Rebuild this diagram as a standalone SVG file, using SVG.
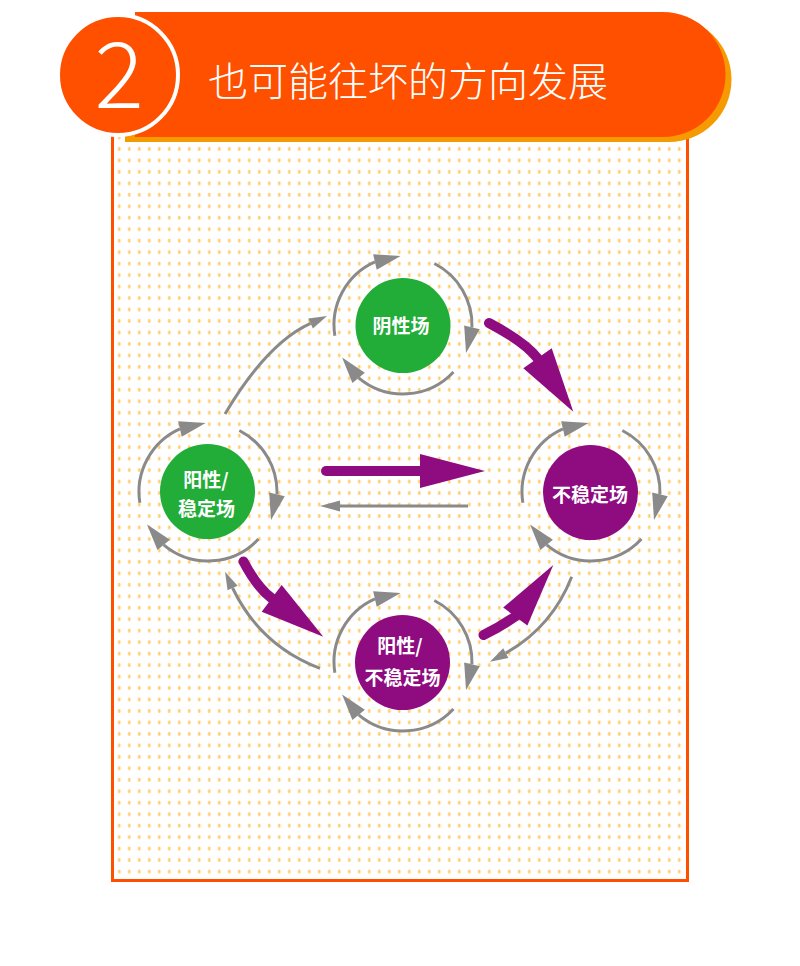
<svg xmlns="http://www.w3.org/2000/svg" xmlns:xlink="http://www.w3.org/1999/xlink" width="800" height="966" viewBox="0 0 800 966">
<style>
.ring path{fill:none;stroke:#8a8a8a;stroke-width:3}
.ring polygon{fill:#8a8a8a}
.gline{fill:none;stroke:#8a8a8a;stroke-width:3}
.ghead{fill:#8a8a8a}
.pline{fill:none;stroke:#8e0b80;stroke-width:10;stroke-linecap:round}
.phead{fill:#8e0b80}
.green{fill:#22ac38}
.purple{fill:#8e0b80}
.lbl{font-family:"Noto Sans CJK SC","Noto Sans",sans-serif;font-size:19px;font-weight:700;fill:#fff;text-anchor:middle}
</style>
<defs>
<pattern id="dots" patternUnits="userSpaceOnUse" x="114.3" y="143.3" width="10" height="11.47">
<ellipse cx="5" cy="5.7" rx="1.4" ry="2" fill="#ffcd6e"/>
</pattern>
<g id="ring" class="ring">
<path d="M-68.15,10.79 A69,69 0 0 1 -28.07,-63.03"/>
<polygon points="-2.41,-68.96 -26.27,-55.24 -29.87,-70.82"/>
<path d="M31.33,-61.48 A69,69 0 0 1 68.96,2.41"/>
<polygon points="63.03,28.07 76.75,4.21 61.17,0.61"/>
<path d="M50.46,47.06 A69,69 0 0 1 -44.35,52.86"/>
<polygon points="-60.92,32.39 -38.13,47.83 -50.57,57.89"/>
</g>
</defs>
<rect width="800" height="966" fill="#fff"/>
<g id="frame">
<rect x="112.5" y="130" width="575" height="750.5" fill="#fff" stroke="#ff5000" stroke-width="3"/>
<rect x="114" y="131" width="572" height="748" fill="url(#dots)"/>
</g>
<g id="header">
<path d="M125,17 H669 A62.5,62.5 0 0 1 669,142 H125 Z" fill="#f59a00"/>
<path d="M135,12 H663 A62.5,62.5 0 0 1 663,137 H135 Z" fill="#ff5000"/>
<circle cx="118" cy="75" r="60" fill="#ff5000" stroke="#fff" stroke-width="4"/>
<text x="119" y="108" font-family="'Noto Sans CJK SC','Noto Sans',sans-serif" font-size="92" font-weight="300" fill="#fff" text-anchor="middle">2</text>
<text x="208" y="96" font-family="'Noto Sans CJK SC',sans-serif" font-size="40" font-weight="300" fill="#fff">也可能往坏的方向发展</text>
</g>
<g id="connectors">
<path class="gline" d="M225,414 Q267.2,342.9 310.6,323.4"/>
<polygon class="ghead" points="327,316 312.9,328.4 308.3,318.4"/>
<path class="pline" d="M489,323 Q525,342 537.5,358.3"/>
<polygon class="phead" points="523.3,368.3 573.3,411.7 551.7,348.3"/>
<path class="pline" d="M326,471 H421"/>
<polygon class="phead" points="420,454 485,471 420,488"/>
<path class="gline" d="M468,506 H338"/>
<polygon class="ghead" points="320,506 340,500.5 340,511.5"/>
<path class="pline" d="M243.5,561.5 Q256.5,586.5 271.7,598.3"/>
<polygon class="phead" points="261.7,611.7 323.3,636.7 281.7,585"/>
<path class="gline" d="M320,668.3 Q260.2,645.6 232.6,588"/>
<polygon class="ghead" points="225,571.7 237.6,585.7 227.6,590.3"/>
<path class="pline" d="M483.5,635 Q500,627 515.3,616.5"/>
<polygon class="phead" points="503.2,607.6 553.3,565 527.4,625.4"/>
<path class="gline" d="M571.7,576.7 Q552.3,626.6 505.8,653.1"/>
<polygon class="ghead" points="490,661.7 503.2,648.3 508.4,657.9"/>
</g>
<g id="node-yin">
<use xlink:href="#ring" transform="translate(403,325)"/>
<circle class="green" cx="403" cy="325.5" r="47.5"/>
<text class="lbl" x="401" y="333">阴性场</text>
</g>
<g id="node-yang-stable">
<use xlink:href="#ring" transform="translate(208,492)"/>
<circle class="green" cx="207.5" cy="491.5" r="47.5"/>
<text class="lbl" x="206" y="487">阳性/</text>
<text class="lbl" x="206.5" y="516">稳定场</text>
</g>
<g id="node-unstable">
<use xlink:href="#ring" transform="translate(591,492)"/>
<circle class="purple" cx="590.5" cy="492.5" r="47.5"/>
<text class="lbl" x="590" y="502">不稳定场</text>
</g>
<g id="node-yang-unstable">
<use xlink:href="#ring" transform="translate(403,662)"/>
<circle class="purple" cx="402.5" cy="662.5" r="47.5"/>
<text class="lbl" x="400" y="653">阳性/</text>
<text class="lbl" x="402.5" y="684.5">不稳定场</text>
</g>
</svg>
